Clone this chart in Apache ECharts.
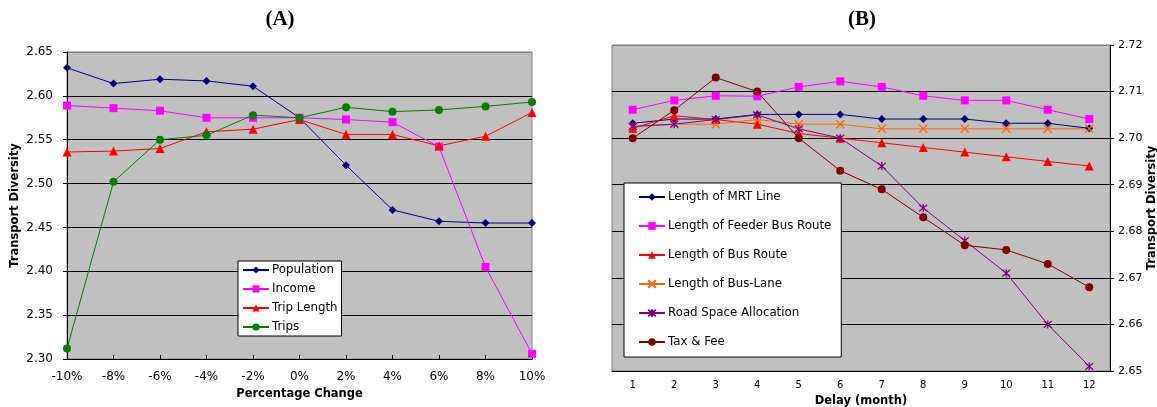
<!DOCTYPE html>
<html><head><meta charset="utf-8">
<script src="https://cdn.jsdelivr.net/npm/echarts@6/dist/echarts.min.js"></script>
<style>html,body{margin:0;padding:0;background:#fff}#c{width:1157px;height:407px}</style>
</head><body><div id="c"></div>
<script>
// Panel A data
const pctCategories = ['-10%','-8%','-6%','-4%','-2%','0%','2%','4%','6%','8%','10%'];
const population = [2.632,2.614,2.619,2.617,2.611,2.575,2.521,2.470,2.457,2.455,2.455];
const income     = [2.589,2.586,2.583,2.575,2.575,2.575,2.573,2.570,2.542,2.405,2.306];
const tripLength = [2.536,2.537,2.540,2.559,2.562,2.573,2.556,2.556,2.543,2.554,2.581];
const trips      = [2.312,2.502,2.550,2.555,2.578,2.575,2.587,2.582,2.584,2.588,2.593];

// Panel B data
const delayCategories = ['1','2','3','4','5','6','7','8','9','10','11','12'];
const mrtLine        = [2.7032,2.7041,2.7041,2.7051,2.7051,2.7051,2.7041,2.7041,2.7041,2.7032,2.7032,2.7021];
const feederBusRoute = [2.7061,2.7081,2.7091,2.7090,2.7110,2.7122,2.7110,2.7091,2.7081,2.7081,2.7061,2.7041];
const busRoute       = [2.7021,2.7048,2.7040,2.7030,2.7010,2.7000,2.6990,2.6980,2.6970,2.6960,2.6950,2.6940];
const busLane        = [2.7025,2.7030,2.7030,2.7040,2.7030,2.7030,2.7020,2.7020,2.7020,2.7020,2.7020,2.7020];
const roadSpace      = [2.7025,2.7030,2.7040,2.7050,2.7020,2.7000,2.6940,2.6850,2.6780,2.6710,2.6600,2.6510];
const taxFee         = [2.7000,2.7060,2.7130,2.7100,2.7000,2.6930,2.6890,2.6830,2.6770,2.6760,2.6730,2.6680];

const FONT = "'DejaVu Sans', Verdana, sans-serif";
const X_SYM = 'path://M0,0L10,10M10,0L0,10';
const STAR_SYM = 'path://M0,0L10,10M10,0L0,10M5,-1L5,11';

function ser(name, data, color, symbol, size, xi, extra) {
  const s = {
    name, type: 'line', data, xAxisIndex: xi, yAxisIndex: xi,
    symbol, symbolSize: size, showSymbol: true,
    lineStyle: { color, width: 1 },
    itemStyle: { color },
    emphasis: { disabled: true },
    animation: false
  };
  if (extra) s.itemStyle = Object.assign({ color, borderColor: color, borderWidth: 1.3 }, extra);
  return s;
}

const chart = echarts.init(document.getElementById('c'), null, { renderer: 'canvas' });
chart.setOption({
  animation: false,
  backgroundColor: '#fff',
  textStyle: { fontFamily: FONT },
  title: [
    { text: '(A)', left: 275, top: 4, textAlign: 'center',
      textStyle: { fontFamily: "'Liberation Serif', 'Times New Roman', serif", fontWeight: 'bold', fontSize: 21, color: '#000' } },
    { text: '(B)', left: 857, top: 4, textAlign: 'center',
      textStyle: { fontFamily: "'Liberation Serif', 'Times New Roman', serif", fontWeight: 'bold', fontSize: 21, color: '#000' } }
  ],
  grid: [
    { left: 67, top: 52, width: 465, height: 307, show: true, backgroundColor: '#C0C0C0', borderColor: '#808080', borderWidth: 1, outerBoundsMode: 'none', containLabel: false },
    { left: 612, top: 45, width: 498, height: 326, show: true, backgroundColor: '#C0C0C0', borderColor: '#808080', borderWidth: 1, outerBoundsMode: 'none', containLabel: false }
  ],
  legend: [
    { orient: 'vertical', left: 238, top: 261, padding: [2, 4, 2, 4], itemGap: 5,
      itemWidth: 26, itemHeight: 9, backgroundColor: '#fff', borderColor: '#000', borderWidth: 1,
      textStyle: { fontFamily: FONT, fontSize: 11.8, color: '#000', lineHeight: 14, padding: [0,0,0,-2] },
      data: ['Population', 'Income', 'Trip Length', 'Trips'] },
    { orient: 'vertical', left: 624, top: 183, padding: [7, 10, 8, 14], itemGap: 15,
      itemWidth: 26, itemHeight: 9.5, backgroundColor: '#fff', borderColor: '#000', borderWidth: 1,
      textStyle: { fontFamily: FONT, fontSize: 11.8, color: '#000', lineHeight: 14, padding: [0,0,0,-2] },
      data: ['Length of MRT Line', 'Length of Feeder Bus Route', 'Length of Bus Route', 'Length of Bus-Lane', 'Road Space Allocation', 'Tax & Fee'] }
  ],
  xAxis: [
    { type: 'category', gridIndex: 0, data: pctCategories, boundaryGap: false,
      axisLine: { lineStyle: { color: '#000', width: 1 } },
      axisTick: { inside: true, length: 4, lineStyle: { color: '#000' } },
      axisLabel: { fontFamily: FONT, fontSize: 12, color: '#000', margin: 12 },
      name: 'Percentage Change', nameLocation: 'middle', nameGap: 28,
      nameTextStyle: { fontFamily: FONT, fontSize: 11.5, fontWeight: 'bold', color: '#000' } },
    { type: 'category', gridIndex: 1, data: delayCategories, boundaryGap: true,
      axisLine: { lineStyle: { color: '#000', width: 1 } },
      axisTick: { inside: true, length: 3, alignWithLabel: false, lineStyle: { color: '#000' } },
      axisLabel: { fontFamily: FONT, fontSize: 10, color: '#000', margin: 9 },
      name: 'Delay (month)', nameLocation: 'middle', nameGap: 19,
      nameTextStyle: { fontFamily: FONT, fontSize: 11.5, fontWeight: 'bold', color: '#000' } }
  ],
  yAxis: [
    { type: 'value', gridIndex: 0, min: 2.30, max: 2.65, interval: 0.05,
      axisLine: { show: true, lineStyle: { color: '#000', width: 1 } },
      axisTick: { show: true, length: 4, lineStyle: { color: '#000' } },
      axisLabel: { fontFamily: FONT, fontSize: 12, color: '#000', margin: 14, formatter: v => v.toFixed(2) },
      splitLine: { show: true, lineStyle: { color: ['#000','#000','#000','#000','#000','#000','#000','#808080'], width: 1 } },
      name: 'Transport Diversity', nameLocation: 'middle', nameRotate: 90, nameGap: 46,
      nameTextStyle: { fontFamily: FONT, fontSize: 11.5, fontWeight: 'bold', color: '#000' } },
    { type: 'value', gridIndex: 1, position: 'right', min: 2.65, max: 2.72, interval: 0.01,
      axisLine: { show: true, lineStyle: { color: '#000', width: 1 } },
      axisTick: { show: true, length: 4, lineStyle: { color: '#000' } },
      axisLabel: { fontFamily: FONT, fontSize: 11, color: '#000', margin: 8, formatter: v => v.toFixed(2) },
      splitLine: { show: true, lineStyle: { color: ['#000','#000','#000','#000','#000','#000','#000','#808080'], width: 1 } },
      name: 'Transport Diversity', nameLocation: 'middle', nameRotate: 90, nameGap: 34,
      nameTextStyle: { fontFamily: FONT, fontSize: 11.5, fontWeight: 'bold', color: '#000' } }
  ],
  series: [
    ser('Population', population, '#000080', 'diamond', 8, 0),
    ser('Income', income, '#FF00FF', 'rect', 8, 0),
    ser('Trip Length', tripLength, '#FF0000', 'triangle', 9, 0),
    ser('Trips', trips, '#008000', 'circle', 8, 0),
    ser('Length of MRT Line', mrtLine, '#000080', 'diamond', 8, 1),
    ser('Length of Feeder Bus Route', feederBusRoute, '#FF00FF', 'rect', 8, 1),
    ser('Length of Bus Route', busRoute, '#FF0000', 'triangle', 9, 1),
    ser('Length of Bus-Lane', busLane, '#FF6600', X_SYM, 8, 1, {}),
    ser('Road Space Allocation', roadSpace, '#800080', STAR_SYM, 8, 1, {}),
    ser('Tax & Fee', taxFee, '#800000', 'circle', 8, 1)
  ]
});
</script></body></html>
